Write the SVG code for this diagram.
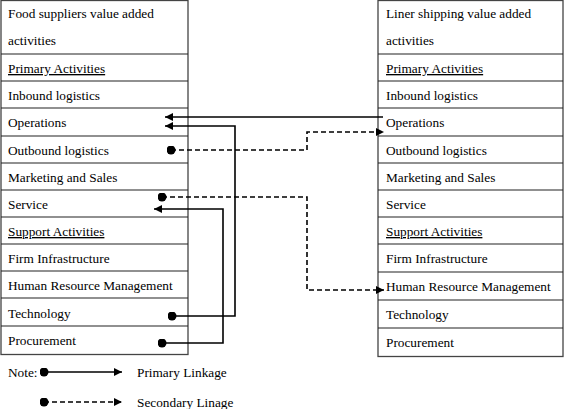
<svg xmlns="http://www.w3.org/2000/svg" width="567" height="409" viewBox="0 0 567 409">
<defs>
<style>
.box{fill:#fff;stroke:#444;stroke-width:1.3}
.row{stroke:#222;stroke-width:1.2}
text{font-family:"Liberation Serif","Times New Roman",serif;font-size:13.3px;fill:#000}
.u{text-decoration:underline}
.ln{fill:none;stroke:#000;stroke-width:1.6}
.dash{stroke-dasharray:5 3}
</style>
<marker id="ah" viewBox="0 0 10 10" refX="10" refY="5" markerWidth="9" markerHeight="8" markerUnits="userSpaceOnUse" orient="auto"><path d="M0,0 L10,5 L0,10 z" fill="#000"/></marker>
<marker id="dot" viewBox="0 0 10 10" refX="5" refY="5" markerWidth="9" markerHeight="9" markerUnits="userSpaceOnUse"><circle cx="5" cy="5" r="5" fill="#000"/></marker>
</defs>
<g id="left">
<rect class="box" x="1" y="0.5" width="187" height="354"/>
<g class="row">
<line x1="1" y1="54" x2="188" y2="54"/><line x1="1" y1="81" x2="188" y2="81"/><line x1="1" y1="108" x2="188" y2="108"/><line x1="1" y1="136" x2="188" y2="136"/><line x1="1" y1="163" x2="188" y2="163"/><line x1="1" y1="190" x2="188" y2="190"/><line x1="1" y1="217" x2="188" y2="217"/><line x1="1" y1="244" x2="188" y2="244"/><line x1="1" y1="271" x2="188" y2="271"/><line x1="1" y1="298" x2="188" y2="298"/><line x1="1" y1="326" x2="188" y2="326"/>
</g>
<text x="8" y="18">Food suppliers value added</text>
<text x="8" y="45">activities</text>
<text x="8" y="73" class="u">Primary Activities</text>
<text x="8" y="100">Inbound logistics</text>
<text x="8" y="127">Operations</text>
<text x="8" y="155">Outbound logistics</text>
<text x="8" y="182">Marketing and Sales</text>
<text x="8" y="209">Service</text>
<text x="8" y="236" class="u">Support Activities</text>
<text x="8" y="263">Firm Infrastructure</text>
<text x="8" y="290">Human Resource Management</text>
<text x="8" y="318">Technology</text>
<text x="8" y="345">Procurement</text>
</g>
<g id="right">
<rect class="box" x="378" y="0.5" width="185" height="356"/>
<g class="row">
<line x1="378" y1="54" x2="563" y2="54"/><line x1="378" y1="81" x2="563" y2="81"/><line x1="378" y1="108" x2="563" y2="108"/><line x1="378" y1="136" x2="563" y2="136"/><line x1="378" y1="163" x2="563" y2="163"/><line x1="378" y1="190" x2="563" y2="190"/><line x1="378" y1="217" x2="563" y2="217"/><line x1="378" y1="244" x2="563" y2="244"/><line x1="378" y1="272" x2="563" y2="272"/><line x1="378" y1="300" x2="563" y2="300"/><line x1="378" y1="328" x2="563" y2="328"/>
</g>
<text x="386" y="18">Liner shipping value added</text>
<text x="386" y="45">activities</text>
<text x="386" y="73" class="u">Primary Activities</text>
<text x="386" y="100">Inbound logistics</text>
<text x="386" y="127">Operations</text>
<text x="386" y="155">Outbound logistics</text>
<text x="386" y="182">Marketing and Sales</text>
<text x="386" y="209">Service</text>
<text x="386" y="236" class="u">Support Activities</text>
<text x="386" y="263">Firm Infrastructure</text>
<text x="386" y="291">Human Resource Management</text>
<text x="386" y="319">Technology</text>
<text x="386" y="347">Procurement</text>
</g>
<g id="connectors">
<path class="ln" d="M383 117 H165" marker-end="url(#ah)"/>
<path class="ln" d="M172 316 H235 V126 H165" marker-start="url(#dot)" marker-end="url(#ah)"/>
<path class="ln" d="M162 343 H223 V209 H154" marker-start="url(#dot)" marker-end="url(#ah)"/>
<path class="ln dash" d="M171 150 H307 V132 H384" marker-start="url(#dot)" marker-end="url(#ah)"/>
<path class="ln dash" d="M162 197 H307 V290 H384" marker-start="url(#dot)" marker-end="url(#ah)"/>
</g>
<g id="legend">
<text x="8" y="377">Note:</text>
<path class="ln" d="M44 372 H122" marker-start="url(#dot)" marker-end="url(#ah)"/>
<text x="137" y="377">Primary Linkage</text>
<path class="ln dash" d="M44 402 H122" marker-start="url(#dot)" marker-end="url(#ah)"/>
<text x="137" y="407">Secondary Linage</text>
</g>
</svg>
